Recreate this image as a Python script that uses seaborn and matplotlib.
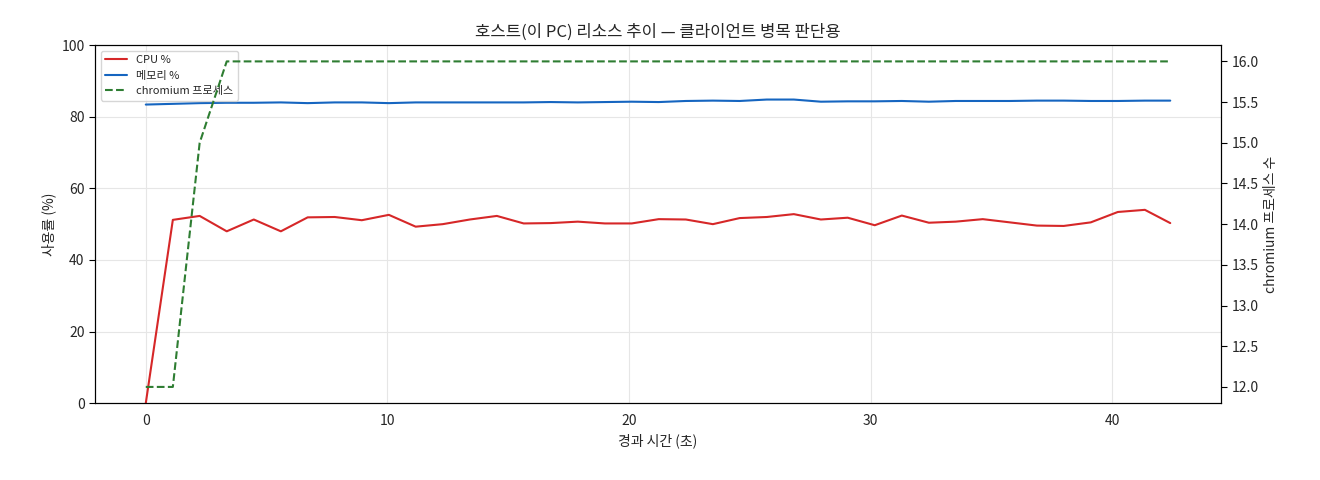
import matplotlib
matplotlib.use("Agg")
import matplotlib.pyplot as plt
import seaborn as sns

t = [0.0, 1.12, 2.23, 3.35, 4.47, 5.59, 6.70, 7.82, 8.94, 10.06, 11.17, 12.29, 13.41, 14.53,
     15.64, 16.76, 17.88, 19.0, 20.11, 21.23, 22.35, 23.47, 24.58, 25.70, 26.82, 27.94,
     29.05, 30.17, 31.29, 32.41, 33.52, 34.64, 35.76, 36.88, 37.99, 39.11, 40.23, 41.35, 42.4]
cpu = [0, 51.2, 52.3, 48.0, 51.3, 48.0, 51.9, 52.0, 51.1, 52.6, 49.3, 50.0, 51.3, 52.3,
       50.2, 50.3, 50.7, 50.2, 50.2, 51.4, 51.3, 50.0, 51.7, 52.0, 52.8, 51.3, 51.8, 49.7,
       52.4, 50.4, 50.7, 51.4, 50.5, 49.6, 49.5, 50.5, 53.4, 54.0, 50.3]
mem = [83.4, 83.6, 83.8, 83.9, 83.9, 84.0, 83.8, 84.0, 84.0, 83.8, 84.0, 84.0, 84.0, 84.0,
       84.0, 84.1, 84.0, 84.1, 84.2, 84.1, 84.4, 84.5, 84.4, 84.8, 84.8, 84.2, 84.3, 84.3,
       84.4, 84.2, 84.4, 84.4, 84.4, 84.5, 84.5, 84.4, 84.4, 84.5, 84.5]
procs = [12, 12, 15, 16] + [16] * 35

sns.set_style("white")
plt.rcParams['font.family'] = ['Noto Sans CJK KR', 'DejaVu Sans']
plt.rcParams['axes.unicode_minus'] = False

fig, ax = plt.subplots(figsize=(13.2, 4.8), dpi=100)
sns.lineplot(x=t, y=cpu, ax=ax, color="#d62728", lw=1.5, label="CPU %", legend=False)
sns.lineplot(x=t, y=mem, ax=ax, color="#1565c0", lw=1.5, label="메모리 %", legend=False)
ax.set_ylim(0, 100)
ax.set_xlim(-2.1, 44.5)
ax.grid(True, color="#e6e6e6", lw=0.8)
ax.set_xlabel("경과 시간 (초)")
ax.set_ylabel("사용률 (%)")
ax.set_title("호스트(이 PC) 리소스 추이 — 클라이언트 병목 판단용")
ax2 = ax.twinx()
sns.lineplot(x=t, y=procs, ax=ax2, color="#2e7d32", lw=1.5, linestyle="--", label="chromium 프로세스", legend=False)
ax2.set_ylim(11.8, 16.2)
ax2.set_ylabel("chromium 프로세스 수")
h1, lb1 = ax.get_legend_handles_labels()
h2, lb2 = ax2.get_legend_handles_labels()
ax.legend(h1 + h2, lb1 + lb2, loc="upper left", fontsize=8)
for a in (ax, ax2):
    for s in a.spines.values():
        s.set_color("black")
    a.tick_params(direction="out", length=4, color="black")
fig.subplots_adjust(left=0.072, right=0.925, top=0.906, bottom=0.16)
fig.savefig("out.png")
